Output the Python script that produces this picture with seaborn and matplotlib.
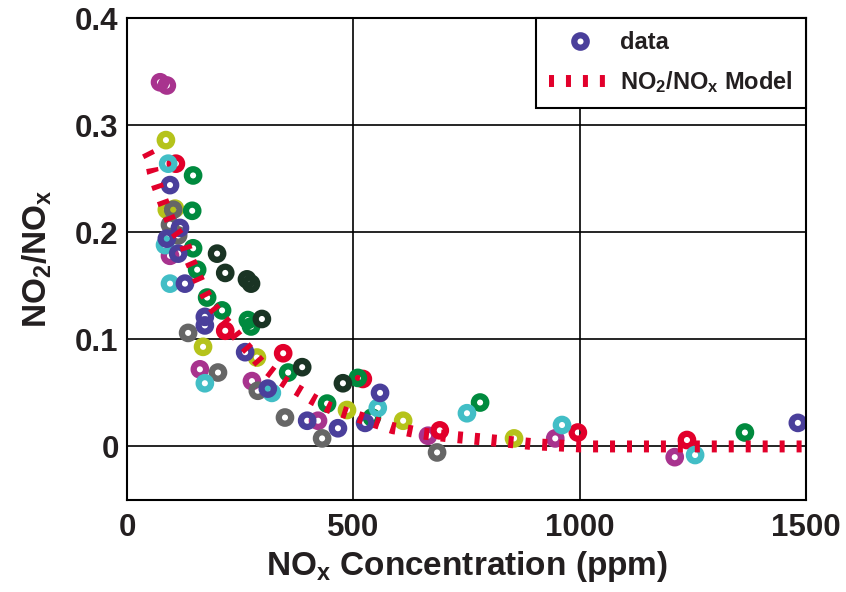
import matplotlib
matplotlib.use("Agg")
import matplotlib.pyplot as plt
import seaborn as sns
import pandas as pd
from matplotlib.lines import Line2D

# ---- data ----
navy_x = [95, 117, 88, 113, 128, 172, 172, 261, 311, 398, 466, 559, 526, 1482]
navy_y = [0.244, 0.204, 0.194, 0.180, 0.152, 0.121, 0.113, 0.088, 0.054, 0.024, 0.017, 0.050, 0.022, 0.022]
magenta_x = [73, 88, 95, 161, 276, 422, 946, 1210, 665]
magenta_y = [0.340, 0.337, 0.178, 0.072, 0.061, 0.024, 0.0075, -0.010, 0.010]
cyan_x = [84, 95, 172, 320, 554, 751, 961, 1255]
cyan_y = [0.188, 0.152, 0.059, 0.050, 0.036, 0.031, 0.020, -0.008]
yellow_x = [86, 88, 106, 168, 287, 486, 610, 855]
yellow_y = [0.286, 0.221, 0.222, 0.093, 0.083, 0.034, 0.024, 0.0075]
green_x = [146, 144, 146, 155, 177, 210, 267, 274, 356, 442, 510, 541, 780, 1365]
green_y = [0.253, 0.220, 0.185, 0.165, 0.139, 0.127, 0.118, 0.112, 0.069, 0.040, 0.064, 0.027, 0.041, 0.013]
dkgreen_x = [199, 217, 265, 274, 298, 387, 477]
dkgreen_y = [0.180, 0.162, 0.156, 0.152, 0.119, 0.074, 0.059]
gray_x = [102, 95, 113, 135, 201, 289, 349, 431, 685]
gray_y = [0.221, 0.207, 0.197, 0.106, 0.069, 0.052, 0.027, 0.0075, -0.0056]
red_x = [108, 217, 345, 521, 691, 996, 1237]
red_y = [0.264, 0.108, 0.087, 0.063, 0.015, 0.013, 0.006]
cyan2_x = [91]
cyan2_y = [0.264]

model_x = [45, 51, 57, 68, 80, 102, 128, 139, 166, 183, 205, 228, 250, 298, 338, 367, 415,
           448, 486, 515, 552, 588, 618, 654, 720, 800, 850, 900, 1000, 1500]
model_y = [0.275, 0.270, 0.256, 0.242, 0.228, 0.204, 0.189, 0.174, 0.148, 0.134, 0.122, 0.111,
           0.099, 0.076, 0.063, 0.055, 0.043, 0.036, 0.031, 0.027, 0.022, 0.017, 0.015, 0.012,
           0.009, 0.006, 0.004, 0.002, 0.0, 0.0]

x_ticks = [0, 500, 1000, 1500]
y_ticks = [0, 0.1, 0.2, 0.3, 0.4]
y_tick_labels = ["0", "0.1", "0.2", "0.3", "0.4"]

colors = {
    "navy": "#4a3f9b", "magenta": "#a8338e", "cyan": "#42bec6", "yellow": "#b5c31b",
    "green": "#008a3e", "dkgreen": "#1a3424", "gray": "#666666", "red": "#e2002b",
}
red_line = "#e2002b"
text_color = "#231f20"

groups = [
    ("magenta", magenta_x, magenta_y), ("red", red_x, red_y), ("cyan", cyan2_x, cyan2_y),
    ("yellow", yellow_x, yellow_y), ("green", green_x, green_y), ("dkgreen", dkgreen_x, dkgreen_y),
    ("gray", gray_x, gray_y), ("cyan", cyan_x, cyan_y), ("navy", navy_x, navy_y),
]
rows = []
for name, xs, ys in groups:
    for a, b in zip(xs, ys):
        rows.append((a, b, name))
df = pd.DataFrame(rows, columns=["nox", "ratio", "grp"])

sns.set_theme(style="white")
plt.rcParams["font.family"] = ["Liberation Sans", "DejaVu Sans"]
plt.rcParams["font.weight"] = "bold"
plt.rcParams["mathtext.fontset"] = "custom"
plt.rcParams["mathtext.rm"] = "Liberation Sans:bold"
plt.rcParams["mathtext.it"] = "Liberation Sans:bold"
plt.rcParams["mathtext.bf"] = "Liberation Sans:bold"

fig = plt.figure(figsize=(8.46, 5.92), dpi=100)
ax = fig.add_axes([127 / 846, 92 / 592, 679 / 846, 482 / 592])

ring_s = 80
ring_lw = 4.5
sns.scatterplot(data=df, x="nox", y="ratio", hue="grp", palette=colors, s=ring_s,
                linewidth=ring_lw, legend=False, ax=ax, zorder=2)
pts = ax.collections[0]
fc = pts.get_facecolors()
pts.set_edgecolors(fc)
pts.set_facecolors("none")

sns.lineplot(x=model_x, y=model_y, color=red_line, lw=8.6, sort=False,
             linestyle=(0, (0.42, 1.0)), dash_capstyle="butt", ax=ax, zorder=3)

ax.set_xlim(0, 1500)
ax.set_ylim(-0.05, 0.4)
ax.set_xticks(x_ticks)
ax.set_yticks(y_ticks)
ax.set_yticklabels(y_tick_labels)
ax.grid(True, color="black", lw=1.2)
ax.set_axisbelow(True)
for sp in ax.spines.values():
    sp.set_color("black")
    sp.set_linewidth(1.5)
ax.tick_params(axis="both", length=0, labelsize=22.5, colors=text_color)
ax.tick_params(axis="x", pad=9)
ax.tick_params(axis="y", pad=6)
for lab in ax.get_xticklabels() + ax.get_yticklabels():
    lab.set_fontweight("bold")

ax.set_xlabel(r"NO$_\mathregular{x}$ Concentration (ppm)", fontsize=24, fontweight="bold",
              color=text_color, labelpad=5)
ax.set_ylabel(r"NO$_\mathregular{2}$/NO$_\mathregular{x}$", fontsize=24, fontweight="bold",
              color=text_color, labelpad=15)

handles = [
    Line2D([], [], marker="o", linestyle="none", markersize=ring_s ** 0.5, markerfacecolor="none",
           markeredgecolor=colors["navy"], markeredgewidth=ring_lw),
    Line2D([], [], color=red_line, lw=8.6, linestyle=(0, (0.42, 1.0)), dash_capstyle="butt"),
]
leg = ax.legend(handles, ["data", r"NO$_\mathregular{2}$/NO$_\mathregular{x}$ Model"],
                loc="upper right", bbox_to_anchor=(1.0, 1.0), borderaxespad=0,
                fontsize=17, frameon=True, fancybox=False, framealpha=1,
                edgecolor="black", handlelength=2.6, handletextpad=0.4,
                labelspacing=0.65, borderpad=0.55)
leg.get_frame().set_linewidth(1.5)
for t in leg.get_texts():
    t.set_fontweight("bold")
    t.set_color(text_color)

fig.savefig("out.png", dpi=100)
